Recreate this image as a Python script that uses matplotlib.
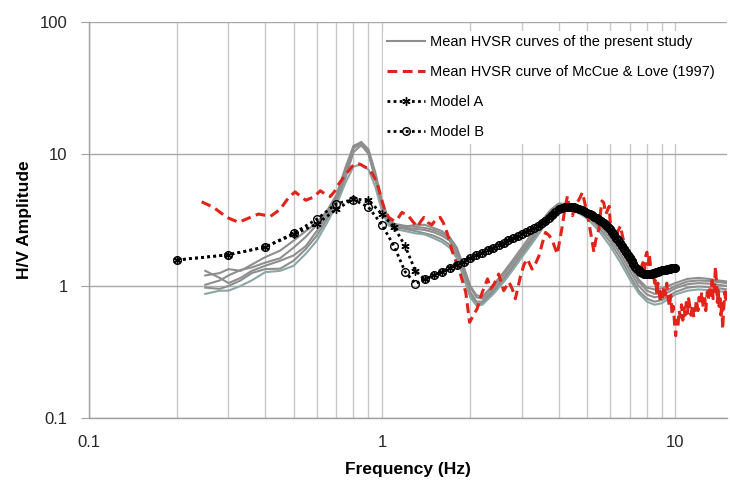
import matplotlib
matplotlib.use("Agg")
import matplotlib.pyplot as plt
from matplotlib.ticker import FixedLocator, NullFormatter

plt.rcParams['font.family'] = ['Liberation Sans', 'DejaVu Sans']

# ---- Mean HVSR curves of the present study (five sites) ----
gray_freq = [0.25, 0.28, 0.3, 0.33, 0.36, 0.4, 0.45, 0.5, 0.55, 0.6, 0.65, 0.7, 0.75, 0.8,
             0.85, 0.9, 0.95, 1.0, 1.05, 1.1, 1.2, 1.3, 1.4, 1.5, 1.6, 1.7, 1.8, 1.9, 2.0,
             2.1, 2.2, 2.4, 2.6, 2.8, 3.0, 3.25, 3.5, 3.75, 4.0, 4.5, 5.0, 5.5, 6.0, 6.5,
             7.0, 7.5, 8.0, 8.5, 9.0, 10, 11, 12, 13, 14, 15]
hvsr_1 = [1.02, 1.10, 1.20, 1.32, 1.38, 1.50, 1.62, 1.95, 2.35, 2.9, 3.6, 4.7, 7.5, 11.2,
          12.3, 10.8, 7.2, 4.4, 3.3, 2.95, 2.85, 2.80, 2.75, 2.65, 2.5, 2.3, 1.9, 1.35, 0.98,
          0.82, 0.80, 0.98, 1.22, 1.5, 1.85, 2.35, 2.95, 3.6, 4.1, 4.05, 3.7, 3.05, 2.45, 1.9,
          1.4, 1.08, 0.92, 0.87, 0.88, 1.0, 1.08, 1.1, 1.09, 1.07, 1.05]
hvsr_2 = [1.30, 1.15, 1.05, 1.15, 1.30, 1.42, 1.55, 1.70, 2.0, 2.6, 3.4, 4.5, 7.2, 11.0,
          12.0, 10.2, 6.6, 4.0, 3.1, 2.8, 2.75, 2.7, 2.65, 2.55, 2.4, 2.2, 1.8, 1.25, 0.9,
          0.76, 0.76, 0.93, 1.15, 1.42, 1.75, 2.25, 2.85, 3.5, 4.0, 3.95, 3.55, 2.9, 2.3, 1.75,
          1.3, 1.0, 0.86, 0.82, 0.84, 0.96, 1.03, 1.05, 1.04, 1.02, 1.0]
hvsr_3 = [0.97, 0.95, 1.00, 1.10, 1.25, 1.34, 1.35, 1.55, 1.9, 2.4, 3.2, 4.3, 6.5, 10.3,
          11.6, 10.0, 6.4, 3.9, 3.0, 2.75, 2.7, 2.6, 2.5, 2.4, 2.25, 2.05, 1.7, 1.2, 0.85,
          0.73, 0.74, 0.9, 1.1, 1.38, 1.7, 2.15, 2.7, 3.4, 3.9, 3.85, 3.4, 2.75, 2.15, 1.62,
          1.2, 0.92, 0.8, 0.76, 0.78, 0.9, 0.97, 0.99, 0.98, 0.96, 0.94]
hvsr_4 = [0.87, 0.92, 0.92, 1.0, 1.1, 1.27, 1.30, 1.42, 1.75, 2.2, 3.0, 4.1, 6.0, 8.0,
          8.3, 7.6, 5.6, 3.7, 2.9, 2.7, 2.6, 2.5, 2.45, 2.3, 2.15, 1.95, 1.62, 1.15, 0.82,
          0.71, 0.72, 0.87, 1.07, 1.33, 1.65, 2.1, 2.65, 3.3, 3.8, 3.75, 3.25, 2.6, 2.0, 1.5,
          1.12, 0.88, 0.76, 0.72, 0.74, 0.86, 0.92, 0.94, 0.93, 0.91, 0.9]
hvsr_5 = [1.20, 1.25, 1.34, 1.30, 1.45, 1.65, 1.85, 2.2, 2.6, 3.0, 3.7, 4.9, 7.8, 11.5,
          12.2, 10.5, 6.8, 4.2, 3.2, 2.85, 2.8, 2.9, 2.9, 2.75, 2.6, 2.35, 1.95, 1.4, 1.0,
          0.85, 0.83, 1.02, 1.27, 1.58, 1.95, 2.5, 3.1, 3.75, 4.2, 4.15, 3.8, 3.1, 2.5, 1.95,
          1.45, 1.12, 0.97, 0.94, 0.96, 1.05, 1.13, 1.15, 1.13, 1.1, 1.08]

# ---- Mean HVSR curve of McCue & Love (1997) ----
mccue_freq = [0.243, 0.267, 0.296, 0.325, 0.356, 0.38, 0.417, 0.45, 0.481, 0.506, 0.52, 0.55,
              0.585, 0.617, 0.645, 0.667, 0.69, 0.712, 0.74, 0.761, 0.79, 0.82, 0.845, 0.87,
              0.9, 0.93, 0.963, 0.99, 1.02, 1.055, 1.1, 1.13, 1.17, 1.2, 1.23, 1.27, 1.32,
              1.36, 1.39, 1.44, 1.48, 1.53, 1.58, 1.62, 1.67, 1.74, 1.83, 1.93, 1.99, 2.05,
              2.11, 2.2, 2.29, 2.35, 2.41, 2.5, 2.6, 2.71, 2.78, 2.85, 2.97, 3.05, 3.13, 3.25,
              3.35, 3.43, 3.52, 3.61, 3.72, 3.81, 3.96, 4.05, 4.12, 4.2, 4.29, 4.35, 4.46,
              4.55, 4.63, 4.72, 4.82, 4.92, 5.02, 5.15, 5.28, 5.35, 5.49, 5.56, 5.62, 5.7,
              5.8, 5.95, 6.01, 6.1, 6.25, 6.38, 6.5, 6.6, 6.76, 6.9, 7.05, 7.24, 7.4, 7.62,
              7.75, 7.85, 7.93, 8.0, 8.08, 8.15, 8.25, 8.33, 8.4, 8.5, 8.58, 8.65, 8.72, 8.8,
              8.88, 8.95, 9.05, 9.15, 9.25, 9.35, 9.45, 9.55, 9.65, 9.75, 9.85, 9.95, 10.03,
              10.12, 10.2, 10.3, 10.4, 10.5, 10.6, 10.7, 10.8, 10.9, 11.0, 11.1, 11.2, 11.3,
              11.45, 11.55, 11.7, 11.8, 11.95, 12.05, 12.2, 12.3, 12.45, 12.6, 12.7, 12.85,
              12.95, 13.1, 13.2, 13.35, 13.45, 13.6, 13.7, 13.8, 13.9, 14.0, 14.1, 14.2, 14.3,
              14.4, 14.5, 14.6, 14.75, 14.85, 15.0]
mccue_amp = [4.33, 3.93, 3.3, 3.03, 3.3, 3.5, 3.36, 3.8, 4.67, 5.15, 4.9, 4.45,
             4.7, 5.25, 4.9, 4.75, 5.2, 5.9, 6.6, 7.2, 8.0, 8.5, 8.3, 8.0,
             7.7, 7.0, 6.0, 4.8, 3.8, 3.3, 3.1, 3.2, 3.6, 3.5, 3.4, 3.1, 2.8,
             3.1, 3.3, 3.0, 2.9, 3.2, 3.3, 3.0, 2.5, 1.8, 1.34, 0.9, 0.53, 0.6,
             0.67, 0.9, 1.13, 0.95, 1.03, 1.23, 0.92, 1.07, 0.95, 0.8, 1.2, 1.45, 1.6, 1.34,
             1.5, 1.69, 2.1, 2.54, 2.4, 2.2, 1.74, 2.3, 2.85, 3.8, 4.8, 3.9, 3.4,
             4.0, 4.27, 4.6, 5.1, 4.2, 3.4, 2.5, 1.8, 2.2, 2.7, 3.6, 4.4, 4.27,
             3.5, 4.0, 2.85, 2.5, 2.26, 2.6, 2.85, 2.4, 1.9, 1.75, 1.8, 1.6, 1.45, 1.34,
             1.5, 1.3, 1.69, 1.8, 1.45, 1.75, 1.34, 1.2, 1.3, 1.05, 1.13, 0.85, 1.05, 0.95,
             0.75, 0.9, 0.8, 1.0, 0.85, 1.05, 0.8, 0.7, 0.85, 0.6, 0.7, 0.5, 0.42,
             0.55, 0.48, 0.65, 0.58, 0.72, 0.55, 0.68, 0.6, 0.75, 0.62, 0.8, 0.7, 0.6,
             0.72, 0.58, 0.66, 0.78, 0.65, 0.82, 0.72, 0.9, 0.68, 0.8, 0.65, 0.9,
             0.78, 1.0, 0.85, 1.1, 0.8, 1.0, 1.4, 1.1, 0.75, 0.95, 0.7, 0.85, 0.6,
             0.75, 0.47, 0.65, 0.9, 0.75, 1.0]

# ---- Theoretical models ----
model_a_freq = [0.2, 0.3, 0.4, 0.5, 0.6, 0.7, 0.8, 0.9, 1.0, 1.1, 1.2, 1.3]
model_a_amp = [1.57, 1.72, 1.97, 2.45, 2.95, 3.8, 4.55, 4.45, 3.5, 2.8, 2.0, 1.3]
model_b_freq = [0.2, 0.3, 0.4, 0.5, 0.6, 0.7, 0.8, 0.9, 1.0, 1.1, 1.2, 1.3]
model_b_amp = [1.57, 1.72, 1.97, 2.5, 3.2, 4.2, 4.5, 3.95, 2.9, 2.0, 1.28, 1.04]
# both models coincide above 1.3 Hz
model_tail_freq = [1.4, 1.5, 1.6, 1.7, 1.8, 1.9, 2.0, 2.1, 2.2, 2.3, 2.4, 2.5, 2.6, 2.7,
                   2.8, 2.9, 3.0, 3.1, 3.2, 3.3, 3.4, 3.5, 3.6, 3.7, 3.8, 3.9, 4.0, 4.1,
                   4.2, 4.3, 4.4, 4.5, 4.6, 4.7, 4.8, 4.9, 5.0, 5.1, 5.2, 5.3, 5.4, 5.5,
                   5.6, 5.7, 5.8, 5.9, 6.0, 6.1, 6.2, 6.3, 6.4, 6.5, 6.6, 6.7, 6.8, 6.9,
                   7.0, 7.1, 7.2, 7.3, 7.4, 7.5, 7.6, 7.7, 7.8, 7.9, 8.0, 8.1, 8.2, 8.3,
                   8.4, 8.5, 8.6, 8.7, 8.8, 8.9, 9.0, 9.1, 9.2, 9.3, 9.4, 9.5, 9.6, 9.7,
                   9.8, 9.9, 10.0]
model_tail_amp = [1.12, 1.20, 1.28, 1.37, 1.45, 1.53, 1.62, 1.70, 1.78, 1.87, 1.95, 2.04,
                  2.12, 2.21, 2.30, 2.39, 2.48, 2.57, 2.66, 2.76, 2.86, 2.97, 3.10, 3.25,
                  3.45, 3.65, 3.80, 3.90, 3.95, 3.97, 3.96, 3.93, 3.88, 3.82, 3.75, 3.67,
                  3.58, 3.50, 3.42, 3.34, 3.26, 3.17, 3.08, 2.99, 2.90, 2.80, 2.68, 2.56,
                  2.44, 2.32, 2.21, 2.10, 2.00, 1.90, 1.81, 1.72, 1.63, 1.55, 1.47, 1.40,
                  1.35, 1.31, 1.28, 1.26, 1.24, 1.23, 1.23, 1.23, 1.23, 1.24, 1.25, 1.26,
                  1.27, 1.28, 1.29, 1.30, 1.31, 1.32, 1.33, 1.33, 1.34, 1.35, 1.35, 1.36,
                  1.36, 1.37, 1.37]

x_ticks = [0.1, 1, 10]
x_tick_labels = ['0.1', '1', '10']
y_ticks = [0.1, 1, 10, 100]
y_tick_labels = ['0.1', '1', '10', '100']

fig = plt.figure(figsize=(7.3, 4.84), dpi=100)
ax = fig.add_axes([88.5 / 730, 1 - 418 / 484, (727 - 88.5) / 730, (418 - 21.7) / 484])
ax.set_xscale('log')
ax.set_yscale('log')
ax.set_xlim(0.1, 15)
ax.set_ylim(0.1, 100)

gray = '#8e8e8e'
for i, vals in enumerate([hvsr_1, hvsr_2, hvsr_3, hvsr_4, hvsr_5]):
    col = '#8aa6a6' if i == 3 else gray
    ax.plot(gray_freq, vals, color=col, lw=1.5, zorder=3,
            label='Mean HVSR curves of the present study' if i == 0 else None)

ax.plot(mccue_freq, mccue_amp, color='#e2231a', lw=2.2, ls=(0, (3.2, 1.8)), zorder=4,
        label='Mean HVSR curve of McCue & Love (1997)')

a_f = model_a_freq + model_tail_freq
a_v = model_a_amp + model_tail_amp
b_f = model_b_freq + model_tail_freq
b_v = model_b_amp + model_tail_amp
ax.plot(a_f, a_v, color='black', lw=2.0, ls=(0, (1, 1.2)), marker=(6, 2, 0),
        ms=6, mew=1.0, mec='black', zorder=5, label='Model A')
ax.plot(b_f, b_v, color='black', lw=2.0, ls=(0, (1, 1.2)), marker='o', ms=5.5,
        mfc='none', mew=1.0, mec='black', zorder=5, label='Model B')

# grid: vertical lines at every log step, horizontal at decades
ax.xaxis.set_major_locator(FixedLocator(x_ticks))
ax.xaxis.set_minor_locator(FixedLocator([0.2, 0.3, 0.4, 0.5, 0.6, 0.7, 0.8, 0.9,
                                         2, 3, 4, 5, 6, 7, 8, 9]))
ax.xaxis.set_minor_formatter(NullFormatter())
ax.yaxis.set_major_locator(FixedLocator(y_ticks))
ax.yaxis.set_minor_locator(FixedLocator([]))
ax.set_xticklabels(x_tick_labels)
ax.set_yticklabels(y_tick_labels)
ax.grid(True, which='major', axis='y', color='#a8a8a8', lw=1.0, zorder=0)
ax.grid(True, which='both', axis='x', color='#c8c8c8', lw=1.0, zorder=0)
ax.set_axisbelow(True)

for s in ['top', 'right']:
    ax.spines[s].set_visible(False)
for s in ['left', 'bottom']:
    ax.spines[s].set_color('#a0a0a0')
    ax.spines[s].set_linewidth(1.0)

ax.tick_params(axis='y', which='major', length=6, color='#a0a0a0', pad=9,
               labelsize=12, labelcolor='#262626')
ax.tick_params(axis='x', which='both', length=0, pad=12, labelsize=12,
               labelcolor='#262626')

ax.set_xlabel('Frequency (Hz)', fontsize=12.5, fontweight='bold', labelpad=9)
ax.set_ylabel('H/V Amplitude', fontsize=12.5, fontweight='bold', labelpad=6)

leg = ax.legend(loc='upper left', bbox_to_anchor=(383 / 730, 1 - 31 / 484),
                bbox_transform=fig.transFigure, frameon=True, fontsize=10.5,
                handlelength=2.6, handletextpad=0.3, labelspacing=1.1,
                borderpad=0.3, borderaxespad=0)
leg.get_frame().set_facecolor('white')
leg.get_frame().set_edgecolor('none')
leg.get_frame().set_alpha(1.0)
leg.set_zorder(10)

fig.savefig('out.png', dpi=100, facecolor='white')
